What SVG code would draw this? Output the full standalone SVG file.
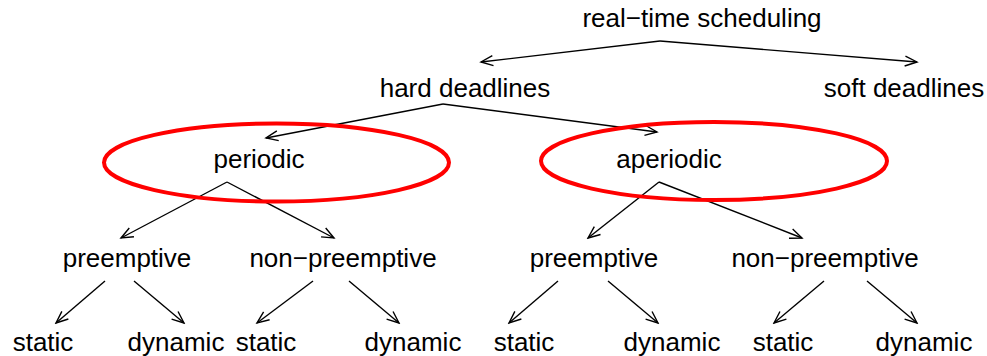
<svg xmlns="http://www.w3.org/2000/svg" width="987" height="356" viewBox="0 0 987 356">
<style>
text{font-family:"Liberation Sans",Arial,Helvetica,sans-serif;font-size:26px;fill:#000;text-anchor:middle}
.e{fill:none;stroke:#000;stroke-width:1.4;marker-end:url(#ah)}
.ring{fill:none;stroke:#f00;stroke-width:4}
</style>
<defs>
<marker id="ah" markerUnits="userSpaceOnUse" markerWidth="16" markerHeight="14" viewBox="-14 -7 16 14" refX="0" refY="0" orient="auto">
<path d="M-12,-5 L0,0 L-12,5" fill="none" stroke="#000" stroke-width="1.4"/>
</marker>
</defs>
<rect width="987" height="356" fill="#fff"/>
<g id="connectors">
<line class="e" x1="660" y1="41" x2="481" y2="62"/>
<line class="e" x1="660" y1="41" x2="917" y2="62"/>
<line class="e" x1="443" y1="104" x2="266" y2="138"/>
<line class="e" x1="443" y1="104" x2="657" y2="132"/>
<line class="e" x1="227" y1="182" x2="121" y2="238"/>
<line class="e" x1="227" y1="182" x2="334" y2="238"/>
<line class="e" x1="659" y1="182" x2="588" y2="238"/>
<line class="e" x1="659" y1="182" x2="802" y2="238"/>
<line class="e" x1="105" y1="281" x2="56" y2="323"/>
<line class="e" x1="134" y1="281" x2="184" y2="323"/>
<line class="e" x1="313" y1="281" x2="257" y2="323"/>
<line class="e" x1="349" y1="281" x2="399" y2="323"/>
<line class="e" x1="558" y1="281" x2="509" y2="323"/>
<line class="e" x1="608" y1="281" x2="658" y2="323"/>
<line class="e" x1="824" y1="281" x2="774" y2="323"/>
<line class="e" x1="867" y1="281" x2="917" y2="323"/>
</g>
<g id="highlights">
<ellipse class="ring" cx="276.5" cy="162.5" rx="172.5" ry="39"/>
<ellipse class="ring" cx="714" cy="161" rx="173" ry="39"/>
</g>
<g id="root"><text x="702" y="27">real−time scheduling</text></g>
<g id="hard"><text x="465" y="97">hard deadlines</text></g>
<g id="soft"><text x="904" y="97">soft deadlines</text></g>
<g id="periodic"><text x="259" y="168">periodic</text></g>
<g id="aperiodic"><text x="669" y="168">aperiodic</text></g>
<g id="p-pre"><text x="127" y="267">preemptive</text></g>
<g id="p-nonpre"><text x="343" y="267">non−preemptive</text></g>
<g id="a-pre"><text x="594" y="267">preemptive</text></g>
<g id="a-nonpre"><text x="825" y="267">non−preemptive</text></g>
<g id="pp-static"><text x="43" y="351">static</text></g>
<g id="pp-dynamic"><text x="176" y="351">dynamic</text></g>
<g id="pn-static"><text x="266" y="351">static</text></g>
<g id="pn-dynamic"><text x="413" y="351">dynamic</text></g>
<g id="ap-static"><text x="524" y="351">static</text></g>
<g id="ap-dynamic"><text x="672" y="351">dynamic</text></g>
<g id="an-static"><text x="783" y="351">static</text></g>
<g id="an-dynamic"><text x="924" y="351">dynamic</text></g>
</svg>
